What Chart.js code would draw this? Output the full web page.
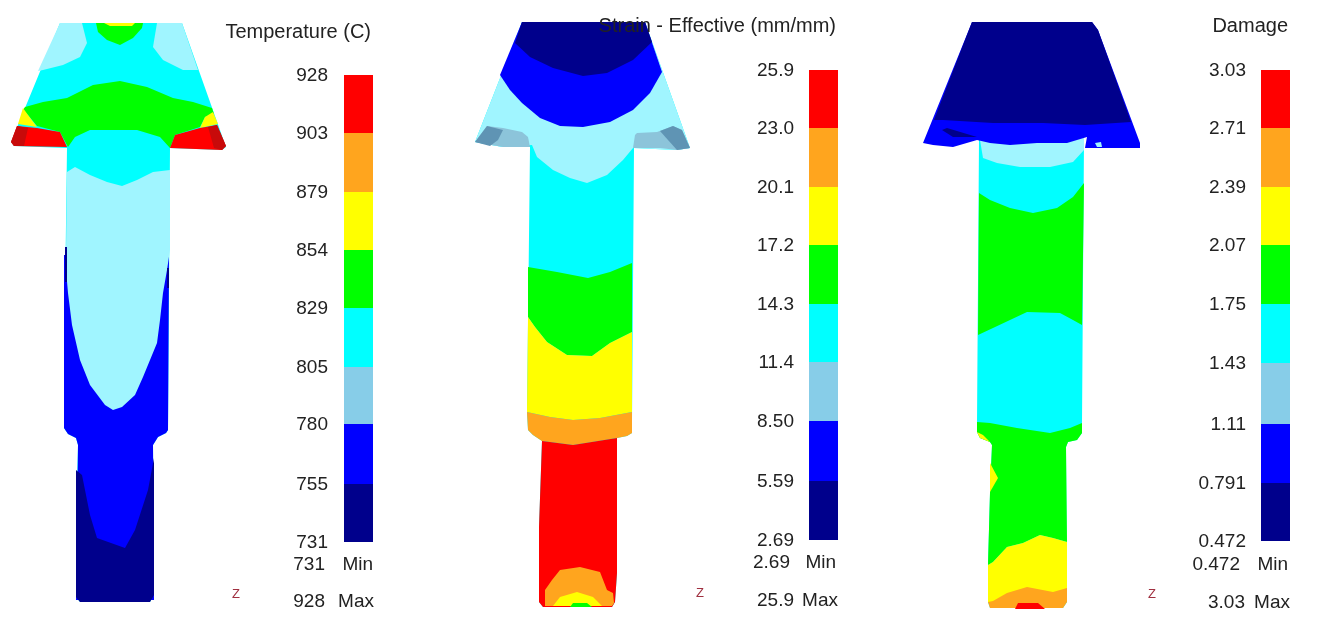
<!DOCTYPE html>
<html><head><meta charset="utf-8">
<style>html,body{margin:0;padding:0;background:#fff}canvas{display:block}</style>
<script src="https://cdn.jsdelivr.net/npm/chart.js@4"></script></head>
<body><canvas id="c" width="1331" height="630"></canvas>
<script>
// Palette of the contour levels
const NAVY='#00008c',BLUE='#0000ff',PALE='#a0f5ff',SKY='#87cde8',CYAN='#00ffff',GREEN='#00ff00',YELLOW='#ffff00',ORANGE='#ffa51e',RED='#ff0000',DARKRED='#c80a0a',STEEL='#8cc4da',STEELDARK='#5f94b4';
const barColors=[RED,ORANGE,YELLOW,GREEN,CYAN,SKY,BLUE,NAVY];

// Legend tick labels
const tempTicks=['928','903','879','854','829','805','780','755','731'];
const strainTicks=['25.9','23.0','20.1','17.2','14.3','11.4','8.50','5.59','2.69'];
const damageTicks=['3.03','2.71','2.39','2.07','1.75','1.43','1.11','0.791','0.472'];
const titles=['Temperature (C)','Strain - Effective (mm/mm)','Damage'];

// Colour-bar band edges
const tempEdges=[75,133,192,250,308,367,424,484,542];
const strainEdges=[70,128,187,245,304,362,421,481,540];
const damageEdges=[70,128,187,245,304,363,424,483,541];

// Temperature part regions
const t_body=[[60,23],[182,23],[226,147],[222,150],[170,148],[169,290],[168,430],[166,433],[158,437],[153,445],[154,560],[154,595],[150,602],[80,602],[76,597],[76,520],[78,445],[76,438],[68,434],[64,428],[65,300],[67,148],[14,146],[11,142]];
const t_paleL=[[60,23],[82,23],[87,43],[80,57],[63,65],[43,70],[38,71]];
const t_paleR=[[157,23],[182,23],[198,70],[183,70],[163,60],[153,47]];
const t_greenTop=[[96,23],[143,23],[142,28],[133,38],[120,45],[107,40],[98,32]];
const t_yellowTop=[[104,23],[135,23],[132,26],[110,26]];
const t_greenMid=[[25,107],[43,102],[67,98],[93,85],[120,81],[147,87],[173,98],[193,102],[212,108],[214,114],[205,117],[200,127],[175,135],[170,148],[160,137],[137,130],[90,130],[75,137],[68,147],[60,132],[37,126],[28,115],[23,110]];
const t_yellowL=[[23,108],[18,124],[37,127],[28,115]];
const t_yellowR=[[213,112],[218,124],[200,128],[205,117]];
const t_redL=[[17,126],[11,142],[14,146],[67,147],[60,132],[37,128]];
const t_redR=[[170,148],[175,135],[200,128],[217,125],[226,146],[222,150]];
const t_darkL=[[17,126],[11,142],[14,146],[24,146],[28,128]];
const t_darkR=[[208,127],[217,125],[226,146],[222,150],[214,148]];
const t_blue=[[64,255],[169,255],[168,430],[166,433],[158,437],[153,445],[154,600],[76,600],[78,445],[76,438],[68,434],[64,428]];
const t_navy=[[76,470],[82,475],[90,515],[97,538],[125,548],[135,530],[148,490],[154,458],[154,595],[150,602],[80,602],[76,597],[76,520]];
const t_pale=[[67,172],[75,167],[90,175],[107,182],[122,186],[137,180],[153,172],[170,170],[170,250],[167,270],[163,293],[160,320],[157,343],[150,360],[143,377],[135,395],[122,407],[113,410],[105,405],[90,385],[80,360],[72,325],[68,293],[66,270],[66,250]];
const t_sliverL=[[65,247],[67,247],[67,282],[65,282]];
const t_sliverR=[[167,268],[169,268],[169,288],[167,288]];

// Strain part regions
const s_body=[[522,22],[645,22],[690,148],[677,150],[634,148],[632,420],[632,433],[627,436],[617,438],[617,573],[615,602],[612,607],[543,607],[539,602],[539,527],[542,441],[533,435],[528,430],[527,412],[530,147],[503,147],[480,143],[475,142]];
const s_head=[[522,22],[645,22],[690,148],[677,150],[633,148],[623,160],[607,175],[587,183],[570,178],[553,170],[537,157],[532,145],[503,147],[480,143],[475,142]];
const s_steelL=[[487,126],[475,142],[480,143],[503,147],[530,147],[528,137],[522,132],[503,128]];
const s_steelR=[[635,135],[637,133],[657,132],[673,126],[682,130],[690,148],[677,150],[660,148],[633,148]];
const s_steelTipL=[[487,126],[475,142],[490,146],[498,140],[503,130]];
const s_steelTipR=[[660,131],[673,126],[682,130],[690,148],[677,150],[668,140]];
const s_blue=[[522,22],[645,22],[662,72],[650,93],[633,110],[610,122],[583,127],[560,126],[540,118],[522,103],[510,90],[500,75]];
const s_navy=[[522,22],[645,22],[652,42],[633,60],[607,73],[583,76],[553,68],[530,57],[515,43]];
const s_green=[[528,267],[557,272],[588,278],[610,272],[632,263],[632,332],[610,343],[592,356],[567,355],[547,342],[535,327],[528,317]];
const s_yellow=[[528,317],[535,327],[547,342],[567,355],[592,356],[610,343],[632,332],[632,412],[600,418],[573,420],[550,417],[527,412]];
const s_orange=[[527,412],[550,417],[573,420],[600,418],[632,412],[632,433],[627,436],[617,438],[573,445],[542,441],[533,435],[528,430]];
const s_red=[[542,441],[573,445],[617,438],[617,573],[615,602],[612,607],[543,607],[539,602],[539,527]];
const s_orangeB=[[545,606],[545,590],[552,580],[560,570],[580,567],[600,572],[607,590],[613,593],[614,603],[612,606]];
const s_yellowB=[[553,606],[560,597],[577,592],[593,597],[602,606]];
const s_greenB=[[570,607],[573,603],[587,603],[592,607]];

// Damage part regions
const d_stem=[[979,140],[1084,140],[1082,423],[1082,433],[1077,440],[1068,442],[1066,447],[1067,602],[1063,608],[990,608],[988,602],[988,565],[990,493],[992,445],[990,442],[980,438],[977,432],[977,422]];
const d_head=[[972,22],[1092,22],[1098,30],[1140,143],[1140,148],[1110,148],[1085,148],[1087,137],[1067,143],[1037,143],[1010,145],[990,143],[977,140],[953,147],[933,145],[923,143]];
const d_navy=[[972,22],[1092,22],[1098,30],[1131,122],[1085,125],[1043,123],[993,123],[943,120],[934,120]];
const d_streak=[[942,130],[947,128],[977,137],[953,137]];
const d_paleDot=[[1095,143],[1101,142],[1102,147],[1097,147]];
const d_pale=[[980,140],[1084,137],[1084,150],[1073,162],[1050,167],[1020,167],[997,163],[983,158]];
const d_green1=[[979,193],[990,200],[1010,208],[1033,213],[1057,208],[1073,197],[1084,183],[1082,325],[1073,320],[1060,313],[1027,312],[1010,320],[993,328],[978,335]];
const d_green2=[[977,422],[990,423],[1017,428],[1050,433],[1070,428],[1082,423],[1082,433],[1077,440],[1068,442],[1066,447],[1067,542],[1053,538],[1040,535],[1023,543],[1007,547],[993,562],[988,565],[990,493],[992,445],[990,442],[980,438],[977,432]];
const d_yellowDia=[[990,463],[998,478],[990,492]];
const d_yellowCol=[[977,432],[983,435],[990,442],[980,438]];
const d_yellow=[[988,565],[993,562],[1007,547],[1023,543],[1040,535],[1053,538],[1067,542],[1067,602],[992,605],[988,602]];
const d_orange=[[988,602],[993,601],[1007,593],[1027,587],[1053,592],[1067,588],[1067,602],[1063,608],[990,608]];
const d_red=[[1015,609],[1018,603],[1038,603],[1045,609]];

const shapes=[
 [t_body,CYAN],[t_paleL,PALE],[t_paleR,PALE],[t_greenTop,GREEN],[t_yellowTop,YELLOW],[t_greenMid,GREEN],[t_yellowL,YELLOW],[t_yellowR,YELLOW],[t_redL,RED],[t_redR,RED],[t_darkL,DARKRED],[t_darkR,DARKRED],[t_blue,BLUE],[t_navy,NAVY],[t_pale,PALE],[t_sliverL,NAVY],[t_sliverR,NAVY],
 [s_body,CYAN],[s_head,PALE],[s_steelL,STEEL],[s_steelR,STEEL],[s_steelTipL,STEELDARK],[s_steelTipR,STEELDARK],[s_blue,BLUE],[s_navy,NAVY],[s_green,GREEN],[s_yellow,YELLOW],[s_orange,ORANGE],[s_red,RED],[s_orangeB,ORANGE],[s_yellowB,YELLOW],[s_greenB,GREEN],
 [d_stem,CYAN],[d_pale,PALE],[d_green1,GREEN],[d_green2,GREEN],[d_yellowDia,YELLOW],[d_yellowCol,YELLOW],[d_yellow,YELLOW],[d_orange,ORANGE],[d_red,RED],[d_head,BLUE],[d_navy,NAVY],[d_streak,NAVY],[d_paleDot,PALE]
];
const poly=(pts,color)=>({type:'scatter',showLine:true,data:pts.map(p=>({x:p[0],y:p[1]})),backgroundColor:color,borderColor:color,borderWidth:0,pointRadius:0,fill:'shape',tension:0});
const bars=(x0,x1,edges)=>barColors.map((c,i)=>poly([[x0,edges[i]],[x1,edges[i]],[x1,edges[i+1]],[x0,edges[i+1]]],c));
// Chart.js paints the first dataset last, so the painter's-order list is reversed
const datasets=[...shapes.map(s=>poly(s[0],s[1])),...bars(344,373,tempEdges),...bars(809,838,strainEdges),...bars(1261,1290,damageEdges)].reverse();

// Text: [string, x, y]
const titleTexts=[[titles[0],371,32],[titles[1],836,26],[titles[2],1288,26]];
const panelTexts=[
 ['731',325,564],['Min',373,564],['928',325,601],['Max',374,601],
 ['2.69',790,562],['Min',836,562],['25.9',794,600],['Max',838,600],
 ['0.472',1240,564],['Min',1288,564],['3.03',1245,602],['Max',1290,602]
];
const textPlugin={id:'texts',afterDatasetsDraw(ch){
 const c=ch.ctx,X=ch.scales.x,Y=ch.scales.y;c.save();c.textBaseline='middle';c.textAlign='right';c.fillStyle='#222';
 const put=(s,x,y)=>c.fillText(s,X.getPixelForValue(x),Y.getPixelForValue(y));
 c.font='20px "Liberation Sans"';
 titleTexts.forEach(t=>put(t[0],t[1],t[2]));
 c.font='19px "Liberation Sans"';
 tempTicks.forEach((s,i)=>put(s,328,tempEdges[i]+1));
 strainTicks.forEach((s,i)=>put(s,794,strainEdges[i]+1));
 damageTicks.forEach((s,i)=>put(s,1246,damageEdges[i]+1));
 panelTexts.forEach(t=>put(t[0],t[1],t[2]+1));
 c.font='13px "Liberation Sans"';c.fillStyle='#a03040';c.textAlign='center';
 [[236,594],[700,593],[1152,594]].forEach(p=>put('Z',p[0],p[1]));
 c.restore();
}};
new Chart(document.getElementById('c'),{type:'scatter',data:{datasets},plugins:[textPlugin],options:{
 responsive:false,animation:false,devicePixelRatio:1,layout:{padding:0},
 plugins:{legend:{display:false},tooltip:{enabled:false},title:{display:false}},
 scales:{x:{type:'linear',display:false,min:0,max:1331},y:{type:'linear',display:false,min:0,max:630,reverse:true}}
}});
</script></body></html>
